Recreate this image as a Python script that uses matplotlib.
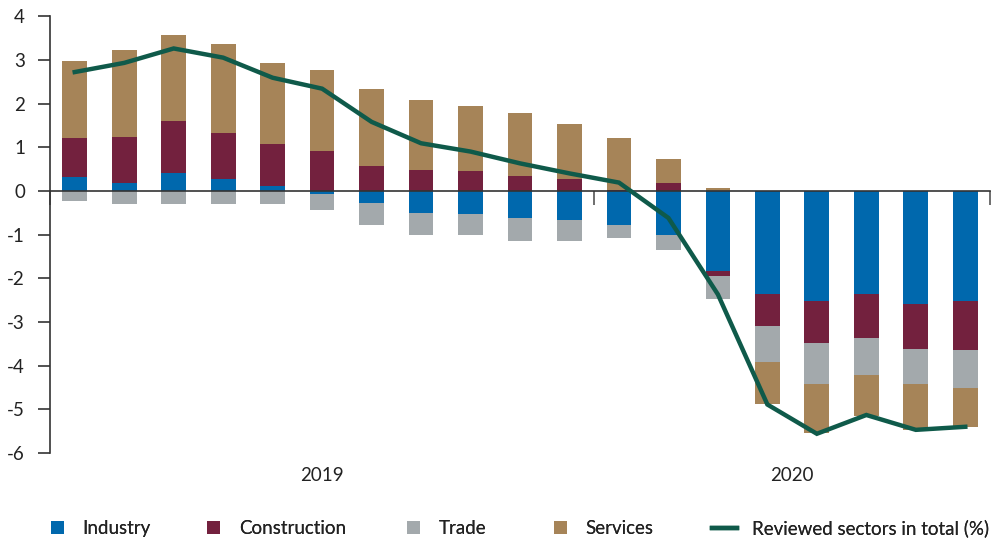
import matplotlib.pyplot as plt
import numpy as np
from matplotlib.patches import Patch
from matplotlib.lines import Line2D
from matplotlib.transforms import blended_transform_factory

plt.rcParams['font.family'] = ['Lato', 'DejaVu Sans']
plt.rcParams['font.size'] = 13.5

# contributions by sector, percentage points (2019 through 2020)
industry = [0.32, 0.18, 0.40, 0.27, 0.11, -0.06, -0.27, -0.50, -0.52, -0.63,
            -0.66, -0.79, -1.02, -1.84, -2.37, -2.51, -2.37, -2.60, -2.53]
construction = [0.89, 1.05, 1.20, 1.05, 0.96, 0.91, 0.58, 0.48, 0.46, 0.35,
                0.28, 0.02, 0.17, -0.10, -0.73, -0.98, -0.99, -1.03, -1.12]
trade = [-0.24, -0.29, -0.29, -0.29, -0.29, -0.37, -0.50, -0.50, -0.50, -0.51,
         -0.48, -0.28, -0.34, -0.54, -0.82, -0.92, -0.86, -0.78, -0.87]
services = [1.76, 1.99, 1.96, 2.04, 1.85, 1.85, 1.75, 1.60, 1.48, 1.43,
            1.25, 1.19, 0.56, 0.07, -0.96, -1.13, -0.94, -1.06, -0.88]
total = [2.72, 2.93, 3.26, 3.05, 2.59, 2.34, 1.58, 1.09, 0.90, 0.63,
         0.40, 0.19, -0.62, -2.37, -4.89, -5.56, -5.13, -5.47, -5.40]
years = ['2019', '2020']
year_bounds = [-0.5, 10.5, 18.5]

names = ['Industry', 'Construction', 'Trade', 'Services']
colors = ['#0068ad', '#73213e', '#a3a9ac', '#a68458']
line_color = '#0f5a4a'
line_name = 'Reviewed sectors in total (%)'
text_color = '#222222'

fig = plt.figure(figsize=(9.96, 5.38), dpi=100)
ax = fig.add_axes([0.0502, 0.158, 0.9438, 0.812])

x = np.arange(len(total))
pos_base = np.zeros(len(x))
neg_base = np.zeros(len(x))
for vals, c in zip([industry, construction, trade, services], colors):
    v = np.array(vals)
    base = np.where(v >= 0, pos_base, neg_base)
    ax.bar(x, v, bottom=base, width=0.5, color=c, zorder=2)
    pos_base += np.where(v >= 0, v, 0)
    neg_base += np.where(v < 0, v, 0)

ax.plot(x, total, color=line_color, lw=3.2, zorder=4, solid_joinstyle='miter')

ax.set_xlim(-0.5, 18.5)
ax.set_ylim(-6, 4)
ax.set_yticks(range(-6, 5))
ax.set_yticklabels([str(t) for t in range(-6, 5)], color=text_color)

for s in ['top', 'right']:
    ax.spines[s].set_visible(False)
ax.spines['left'].set_color('#333333')
ax.spines['left'].set_linewidth(1.2)
ax.spines['bottom'].set_position(('data', 0))
ax.spines['bottom'].set_color('#333333')
ax.spines['bottom'].set_linewidth(1.2)
ax.spines['bottom'].set_zorder(3)

ax.set_xticks(year_bounds)
ax.set_xticklabels([])
ax.tick_params(axis='x', direction='out', length=10, width=1.2, color='#555555')
ax.tick_params(axis='y', direction='out', length=9, width=1.2, color='#333333', pad=9)

trans = blended_transform_factory(ax.transData, ax.transAxes)
for i, yr in enumerate(years):
    mid = (year_bounds[i] + year_bounds[i + 1]) / 2
    ax.text(mid, -0.052, yr, transform=trans, ha='center', va='center', color=text_color)

# one small legend per entry so each sits where it belongs along the bottom
handles = [Patch(facecolor=c, edgecolor='none') for c in colors]
handles.append(Line2D([], [], color=line_color, lw=3.2))
labels = names + [line_name]
anchors = [0.051, 0.208, 0.409, 0.556, 0.715]
for h, lab, xa in zip(handles, labels, anchors):
    is_line = isinstance(h, Line2D)
    leg = fig.legend([h], [lab], loc='center left', bbox_to_anchor=(xa, 0.018),
                     frameon=False, borderaxespad=0, borderpad=0,
                     handlelength=1.35 if is_line else 0.7,
                     handleheight=0.7, handletextpad=0.8 if is_line else 1.0)
    leg.get_texts()[0].set_color(text_color)
    fig.add_artist(leg)

fig.savefig('out.png', dpi=100)
